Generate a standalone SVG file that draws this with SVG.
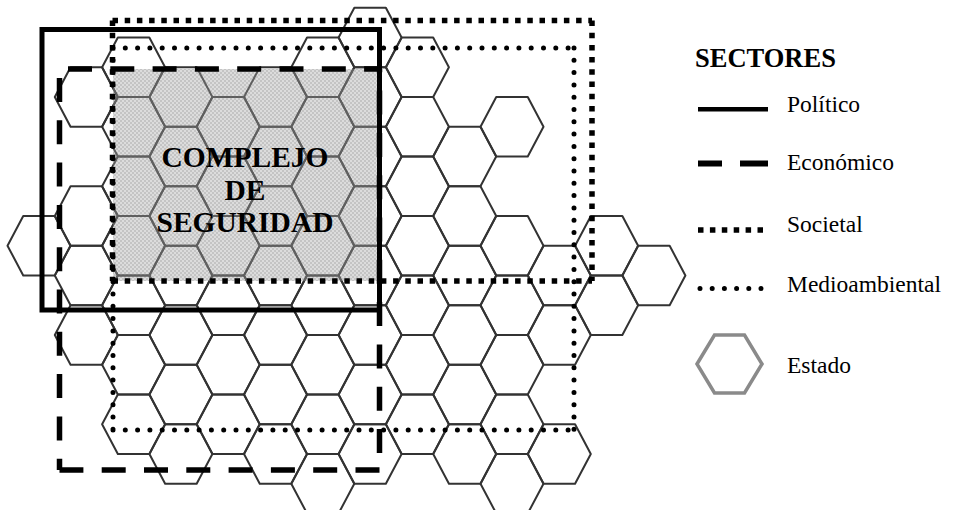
<svg xmlns="http://www.w3.org/2000/svg" xmlns:xlink="http://www.w3.org/1999/xlink" width="954" height="510" viewBox="0 0 954 510">
<defs>
<pattern id="chk" width="4" height="4" patternUnits="userSpaceOnUse"><rect width="4" height="4" fill="#dcdcdc"/><rect width="2" height="2" fill="#c4c4c4"/><rect x="2" y="2" width="2" height="2" fill="#c4c4c4"/></pattern>
<path id="hx" d="M-31.5 0 L-15.75 -29.75 L15.75 -29.75 L31.5 0 L15.75 29.75 L-15.75 29.75 Z"/>
</defs>
<style>
.hex use{fill:none;stroke:#333;stroke-width:2;stroke-linejoin:round}
.pol{fill:none;stroke:#000;stroke-width:5}
.eco{fill:none;stroke:#000;stroke-width:5.5;stroke-dasharray:24 18.3}
.soc{fill:none;stroke:#000;stroke-width:5.5;stroke-dasharray:5.5 6.7}
.env{fill:none;stroke:#000;stroke-width:5;stroke-dasharray:0 12.3;stroke-linecap:round}
.lbl{font-family:"Liberation Serif","Times New Roman",serif;fill:#000}
.big{font-size:29.5px;font-weight:bold;text-anchor:middle}
.leg{font-size:23.5px}
</style>
<rect width="954" height="510" fill="#fff"/>
<rect id="complejo-area" x="113" y="69" width="267" height="212" fill="url(#chk)"/>
<g id="estados" class="hex">
<g id="h0-245"><use xlink:href="#hx" x="39" y="245.7"/></g>
<g id="h1-97"><use xlink:href="#hx" x="86.3" y="97"/></g>
<g id="h1-216"><use xlink:href="#hx" x="86.3" y="216"/></g>
<g id="h1-275"><use xlink:href="#hx" x="86.3" y="275.5"/></g>
<g id="h1-335"><use xlink:href="#hx" x="86.3" y="335"/></g>
<g id="h2-67"><use xlink:href="#hx" x="133.6" y="67.2"/></g>
<g id="h2-126"><use xlink:href="#hx" x="133.6" y="126.7"/></g>
<g id="h2-186"><use xlink:href="#hx" x="133.6" y="186.2"/></g>
<g id="h2-245"><use xlink:href="#hx" x="133.6" y="245.7"/></g>
<g id="h2-305"><use xlink:href="#hx" x="133.6" y="305.2"/></g>
<g id="h2-364"><use xlink:href="#hx" x="133.6" y="364.7"/></g>
<g id="h2-424"><use xlink:href="#hx" x="133.6" y="424.2"/></g>
<g id="h3-97"><use xlink:href="#hx" x="180.9" y="97"/></g>
<g id="h3-156"><use xlink:href="#hx" x="180.9" y="156.5"/></g>
<g id="h3-216"><use xlink:href="#hx" x="180.9" y="216"/></g>
<g id="h3-275"><use xlink:href="#hx" x="180.9" y="275.5"/></g>
<g id="h3-335"><use xlink:href="#hx" x="180.9" y="335"/></g>
<g id="h3-394"><use xlink:href="#hx" x="180.9" y="394.5"/></g>
<g id="h3-454"><use xlink:href="#hx" x="180.9" y="454"/></g>
<g id="h4-126"><use xlink:href="#hx" x="228.2" y="126.7"/></g>
<g id="h4-186"><use xlink:href="#hx" x="228.2" y="186.2"/></g>
<g id="h4-245"><use xlink:href="#hx" x="228.2" y="245.7"/></g>
<g id="h4-305"><use xlink:href="#hx" x="228.2" y="305.2"/></g>
<g id="h4-364"><use xlink:href="#hx" x="228.2" y="364.7"/></g>
<g id="h4-424"><use xlink:href="#hx" x="228.2" y="424.2"/></g>
<g id="h5-97"><use xlink:href="#hx" x="275.5" y="97"/></g>
<g id="h5-156"><use xlink:href="#hx" x="275.5" y="156.5"/></g>
<g id="h5-216"><use xlink:href="#hx" x="275.5" y="216"/></g>
<g id="h5-275"><use xlink:href="#hx" x="275.5" y="275.5"/></g>
<g id="h5-335"><use xlink:href="#hx" x="275.5" y="335"/></g>
<g id="h5-394"><use xlink:href="#hx" x="275.5" y="394.5"/></g>
<g id="h5-454"><use xlink:href="#hx" x="275.5" y="454"/></g>
<g id="h6-67"><use xlink:href="#hx" x="322.8" y="67.2"/></g>
<g id="h6-126"><use xlink:href="#hx" x="322.8" y="126.7"/></g>
<g id="h6-186"><use xlink:href="#hx" x="322.8" y="186.2"/></g>
<g id="h6-245"><use xlink:href="#hx" x="322.8" y="245.7"/></g>
<g id="h6-305"><use xlink:href="#hx" x="322.8" y="305.2"/></g>
<g id="h6-364"><use xlink:href="#hx" x="322.8" y="364.7"/></g>
<g id="h6-424"><use xlink:href="#hx" x="322.8" y="424.2"/></g>
<g id="h6-483"><use xlink:href="#hx" x="322.8" y="483.7"/></g>
<g id="h7-37"><use xlink:href="#hx" x="370.1" y="37.5"/></g>
<g id="h7-97"><use xlink:href="#hx" x="370.1" y="97"/></g>
<g id="h7-156"><use xlink:href="#hx" x="370.1" y="156.5"/></g>
<g id="h7-216"><use xlink:href="#hx" x="370.1" y="216"/></g>
<g id="h7-275"><use xlink:href="#hx" x="370.1" y="275.5"/></g>
<g id="h7-335"><use xlink:href="#hx" x="370.1" y="335"/></g>
<g id="h7-394"><use xlink:href="#hx" x="370.1" y="394.5"/></g>
<g id="h7-454"><use xlink:href="#hx" x="370.1" y="454"/></g>
<g id="h8-67"><use xlink:href="#hx" x="417.4" y="67.2"/></g>
<g id="h8-126"><use xlink:href="#hx" x="417.4" y="126.7"/></g>
<g id="h8-186"><use xlink:href="#hx" x="417.4" y="186.2"/></g>
<g id="h8-245"><use xlink:href="#hx" x="417.4" y="245.7"/></g>
<g id="h8-305"><use xlink:href="#hx" x="417.4" y="305.2"/></g>
<g id="h8-364"><use xlink:href="#hx" x="417.4" y="364.7"/></g>
<g id="h8-424"><use xlink:href="#hx" x="417.4" y="424.2"/></g>
<g id="h9-156"><use xlink:href="#hx" x="464.7" y="156.5"/></g>
<g id="h9-216"><use xlink:href="#hx" x="464.7" y="216"/></g>
<g id="h9-275"><use xlink:href="#hx" x="464.7" y="275.5"/></g>
<g id="h9-335"><use xlink:href="#hx" x="464.7" y="335"/></g>
<g id="h9-394"><use xlink:href="#hx" x="464.7" y="394.5"/></g>
<g id="h9-454"><use xlink:href="#hx" x="464.7" y="454"/></g>
<g id="h10-126"><use xlink:href="#hx" x="512" y="126.7"/></g>
<g id="h10-245"><use xlink:href="#hx" x="512" y="245.7"/></g>
<g id="h10-305"><use xlink:href="#hx" x="512" y="305.2"/></g>
<g id="h10-364"><use xlink:href="#hx" x="512" y="364.7"/></g>
<g id="h10-424"><use xlink:href="#hx" x="512" y="424.2"/></g>
<g id="h10-483"><use xlink:href="#hx" x="512" y="483.7"/></g>
<g id="h11-275"><use xlink:href="#hx" x="559.3" y="275.5"/></g>
<g id="h11-335"><use xlink:href="#hx" x="559.3" y="335"/></g>
<g id="h11-454"><use xlink:href="#hx" x="559.3" y="454"/></g>
<g id="h12-245"><use xlink:href="#hx" x="606.6" y="245.7"/></g>
<g id="h12-305"><use xlink:href="#hx" x="606.6" y="305.2"/></g>
<g id="h13-275"><use xlink:href="#hx" x="653.9" y="275.5"/></g>
</g>
<rect id="complejo-tint" x="113" y="69" width="267" height="212" fill="url(#chk)" opacity="0.28"/>
<g id="complejo-label" class="lbl big">
<text x="245" y="167">COMPLEJO</text>
<text x="245" y="199.5">DE</text>
<text x="245" y="232">SEGURIDAD</text>
</g>
<g id="sectores">
<path id="medioambiental" class="env" d="M113 48 H574 M574 48 V430 M113 48 V430 M113 430 H574"/>
<path id="societal" class="soc" d="M112.5 20.5 H592 M592 20.5 V281 M112.5 20.5 V281 M112.5 281 H592"/>
<path id="economico" class="eco" d="M68 69 H379.5 M379.5 453 V69 M59.5 78 V470 M379.5 470 H59.5"/>
<rect id="politico" class="pol" x="42" y="29.5" width="337.5" height="280.5"/>
</g>
<g id="leyenda">
<text class="lbl" x="695" y="67" font-size="26.5" font-weight="bold">SECTORES</text>
<g id="leg-politico"><path d="M698 109.3 H768" stroke="#000" stroke-width="4.5"/><text class="lbl leg" x="787" y="112">Político</text></g>
<g id="leg-economico"><path d="M698 163.5 H722 M740 163.5 H768" stroke="#000" stroke-width="6"/><text class="lbl leg" x="787" y="170">Económico</text></g>
<g id="leg-societal"><path d="M698 230 H768" stroke="#000" stroke-width="5.5" stroke-dasharray="5.5 6.4"/><text class="lbl leg" x="787" y="232">Societal</text></g>
<g id="leg-medio"><path d="M700 288.5 H762" stroke="#000" stroke-width="5" stroke-dasharray="0 12.2" stroke-linecap="round"/><text class="lbl leg" x="787" y="292">Medioambiental</text></g>
<g id="leg-estado"><path d="M697 364 L714.5 335 L744.5 335 L762 364 L744.5 393 L714.5 393 Z" fill="none" stroke="#8a8a8a" stroke-width="3.5"/><text class="lbl leg" x="787" y="373">Estado</text></g>
</g>
</svg>
